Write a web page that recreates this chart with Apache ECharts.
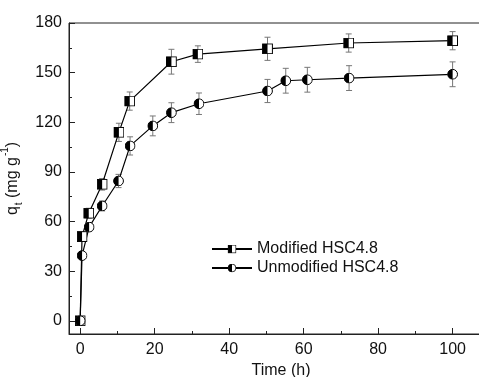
<!DOCTYPE html>
<html>
<head>
<meta charset="utf-8">
<script src="https://cdn.jsdelivr.net/npm/echarts@6/dist/echarts.min.js"></script>
<style>
  html, body { margin: 0; padding: 0; background: #fff; }
  #chart { width: 479px; height: 377px; }
</style>
</head>
<body>
<div id="chart"></div>
<script>
var timeModified = [0, 0.5, 2.3, 5.9, 10.4, 13.3, 24.5, 31.6, 50.3, 72.1, 100];
var qModified = [0, 50.9, 65, 82.5, 113.9, 132.8, 156.6, 161.2, 164.4, 167.9, 169.3];
var errModified = [0, 2, 3, 3.5, 5.5, 5.5, 7.5, 5, 7, 5.5, 5.5];

var timeUnmodified = [0, 0.5, 2.4, 5.9, 10.3, 13.4, 19.5, 24.5, 31.9, 50.3, 55.2, 61, 72.2, 100];
var qUnmodified = [0, 39.4, 56.6, 69.4, 84.5, 105.7, 117.8, 125.8, 131.2, 138.9, 145.1, 145.7, 146.7, 149];
var errUnmodified = [0, 2, 2, 3, 4, 5.5, 6, 6, 6.5, 7, 7.5, 7.5, 7.5, 7.5];

var xMajor = [0, 20, 40, 60, 80, 100];
var xMinor = [10, 30, 50, 70, 90];
var yMajor = [0, 30, 60, 90, 120, 150, 180];
var yMinor = [15, 45, 75, 105, 135, 165];

var FONT = 'Liberation Sans, Arial, sans-serif';

function svgIcon(body) {
  return 'image://data:image/svg+xml;charset=utf-8,' + encodeURIComponent(
    '<svg xmlns="http://www.w3.org/2000/svg" width="22" height="22" viewBox="0 0 11 11">' + body + '</svg>');
}
var squareIcon = svgIcon('<rect x="0.6" y="0.6" width="9.8" height="9.8" fill="#fff" stroke="#000" stroke-width="1"/>' +
  '<rect x="0.6" y="0.6" width="4.9" height="9.8" fill="#000"/>');
var circleIcon = svgIcon('<circle cx="5.5" cy="5.5" r="4.9" fill="#fff" stroke="#000" stroke-width="1"/>' +
  '<path d="M5.5,0.6 A4.9,4.9 0 0 0 5.5,10.4 Z" fill="#000"/>');

function pairs(xs, ys) {
  return xs.map(function (x, i) { return [x, ys[i]]; });
}
function triples(xs, ys, es) {
  return xs.map(function (x, i) { return [x, ys[i], es[i]]; });
}

function renderErr(params, api) {
  var x = api.value(0), y = api.value(1), e = api.value(2);
  if (!e) return null;
  var top = api.coord([x, y + e]);
  var bot = api.coord([x, y - e]);
  var hw = 3;
  var style = { stroke: '#777', lineWidth: 1 };
  return {
    type: 'group',
    children: [
      { type: 'line', shape: { x1: top[0], y1: top[1], x2: bot[0], y2: bot[1] }, style: style },
      { type: 'line', shape: { x1: top[0] - hw, y1: top[1], x2: top[0] + hw, y2: top[1] }, style: style },
      { type: 'line', shape: { x1: bot[0] - hw, y1: bot[1], x2: bot[0] + hw, y2: bot[1] }, style: style }
    ]
  };
}

var myChart = echarts.init(document.getElementById('chart'));

var option = {
  animation: false,
  grid: {
    left: 69, right: -6, top: 23, bottom: 43,
    outerBoundsMode: 'none',
    show: true, borderColor: '#222', borderWidth: 1
  },
  legend: {
    orient: 'vertical',
    left: 206, top: 236,
    itemWidth: 40, itemHeight: 11, itemGap: 3,
    textStyle: { fontFamily: FONT, fontSize: 16, color: '#111' },
    data: ['Modified HSC4.8', 'Unmodified HSC4.8']
  },
  xAxis: [{
    type: 'value', min: -3, max: 108.7,
    name: 'Time (h)', nameLocation: 'middle', nameGap: 28,
    nameTextStyle: { fontFamily: FONT, fontSize: 16, color: '#111', padding: [0, 0, 0, 8] },
    axisLine: { show: true, onZero: false, lineStyle: { color: '#222' } },
    axisTick: { show: true, inside: true, length: 6, customValues: xMajor, lineStyle: { color: '#222' } },
    axisLabel: { customValues: xMajor, margin: 8, fontFamily: FONT, fontSize: 16, color: '#111' },
    splitLine: { show: false }
  }, {
    type: 'value', min: -3, max: 108.7, position: 'bottom',
    axisLine: { show: false, onZero: false },
    axisTick: { show: true, inside: true, length: 3, customValues: xMinor, lineStyle: { color: '#222' } },
    axisLabel: { show: false },
    splitLine: { show: false }
  }],
  yAxis: [{
    type: 'value', min: -8, max: 180,
    name: '{n|q}{sub|t}{n| (mg g}{sup|-1}{n|)}', nameLocation: 'middle', nameGap: 36, nameRotate: 90,
    nameTextStyle: {
      fontFamily: FONT, fontSize: 16, color: '#111',
      rich: {
        n: { fontFamily: FONT, fontSize: 16, color: '#111', lineHeight: 20, verticalAlign: 'middle' },
        sub: { fontFamily: FONT, fontSize: 10, color: '#111', lineHeight: 20, verticalAlign: 'bottom', padding: [0, 0, -2, 1] },
        sup: { fontFamily: FONT, fontSize: 10, color: '#111', lineHeight: 20, verticalAlign: 'top', padding: [-2, 0, 0, 1] }
      }
    },
    axisLine: { show: true, onZero: false, lineStyle: { color: '#222' } },
    axisTick: { show: true, inside: true, length: 6, customValues: yMajor, lineStyle: { color: '#222' } },
    axisLabel: { customValues: yMajor, margin: 7, fontFamily: FONT, fontSize: 16, color: '#111' },
    splitLine: { show: false }
  }, {
    type: 'value', min: -8, max: 180, position: 'left',
    axisLine: { show: false, onZero: false },
    axisTick: { show: true, inside: true, length: 3, customValues: yMinor, lineStyle: { color: '#222' } },
    axisLabel: { show: false },
    splitLine: { show: false }
  }],
  series: [{
    type: 'custom', name: 'errModified', renderItem: renderErr, z: 1,
    data: triples(timeModified, qModified, errModified)
  }, {
    type: 'custom', name: 'errUnmodified', renderItem: renderErr, z: 1,
    data: triples(timeUnmodified, qUnmodified, errUnmodified)
  }, {
    name: 'Modified HSC4.8', type: 'line', z: 3,
    symbol: squareIcon, symbolSize: 11, showAllSymbol: true,
    lineStyle: { color: '#000', width: 1.2 },
    itemStyle: { color: '#000' },
    data: pairs(timeModified, qModified)
  }, {
    name: 'Unmodified HSC4.8', type: 'line', z: 3,
    symbol: circleIcon, symbolSize: 11, showAllSymbol: true,
    lineStyle: { color: '#000', width: 1.2 },
    itemStyle: { color: '#000' },
    data: pairs(timeUnmodified, qUnmodified)
  }]
};

myChart.setOption(option);
window.addEventListener('resize', function () {
  myChart.resize();
});
</script>
</body>
</html>
